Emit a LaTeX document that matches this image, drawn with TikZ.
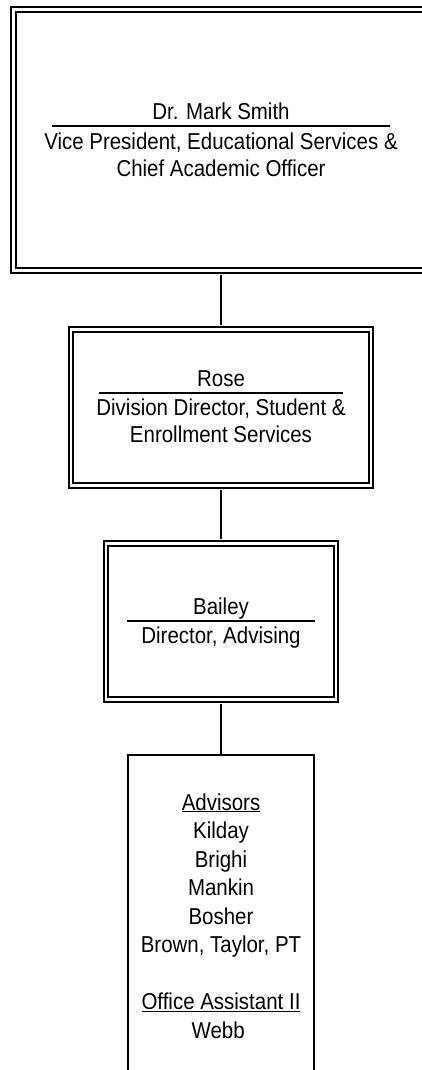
\documentclass[tikz,border=0pt]{standalone}
\usepackage{fontspec}
\setmainfont[FakeStretch=0.89]{Liberation Sans}

\tikzset{
	dbox/.style={draw, double, double distance=2.8pt, line width=1.7pt, inner sep=0pt},
	sbox/.style={draw, line width=1.6pt, inner sep=0pt},
	txt/.style={anchor=base, inner sep=0pt, align=center},
	link/.style={line width=1.6pt},
	namerule/.style={line width=1.3pt}
}

\begin{document}
\begin{tikzpicture}[x=1pt, y=-1pt, font=\fontsize{23}{27}\selectfont]
	\useasboundingbox (0,0) rectangle (422,1070);
	\clip (0,0) rectangle (422,1070);
	%boxes
	\node[dbox, minimum width=415pt, minimum height=261pt] (smith) at (221,140) {};
	\node[dbox, minimum width=300pt, minimum height=156pt] (rose) at (221,407.5) {};
	\node[dbox, minimum width=230pt, minimum height=156pt] (bailey) at (221,621.5) {};
	\node[sbox, minimum width=186pt, minimum height=360pt, anchor=north] (staff) at (221,754) {};
	%lines
	\draw[link, shorten <=3.2pt, shorten >=3.2pt] (smith.south) -- (rose.north);
	\draw[link, shorten <=3.2pt, shorten >=3.2pt] (rose.south) -- (bailey.north);
	\draw[link, shorten <=3.2pt] (bailey.south) -- (staff.north);
	%names (base of a two line title = its last line)
	\node[txt] (smith name) at (221,120) {Dr. Mark Smith};
	\draw[namerule] (52,126) -- (390,126);
	\node[txt] (smith title) at (221,176) {Vice President, Educational Services \&\\Chief Academic Officer};
	\node[txt] (rose name) at (221,386.7) {Rose};
	\draw[namerule] (99,393) -- (343,393);
	\node[txt] (rose title) at (221,442.7) {Division Director, Student \&\\Enrollment Services};
	\node[txt] (bailey name) at (221,614) {Bailey};
	\draw[namerule] (127,621) -- (315,621);
	\node[txt] (bailey title) at (221,643) {Director, Advising};
	%staff
	\foreach \i/\who in {
		0/\underline{Advisors},
		1/Kilday,
		2/Brighi,
		3/Mankin,
		4/Bosher,
		5/{Brown, Taylor, PT},
		7/\underline{Office Assistant II},
		8/Webb
	}
	\node[txt] (staff \i) at (221,{810+\i*28.5}) {\who};
\end{tikzpicture}
\end{document}
